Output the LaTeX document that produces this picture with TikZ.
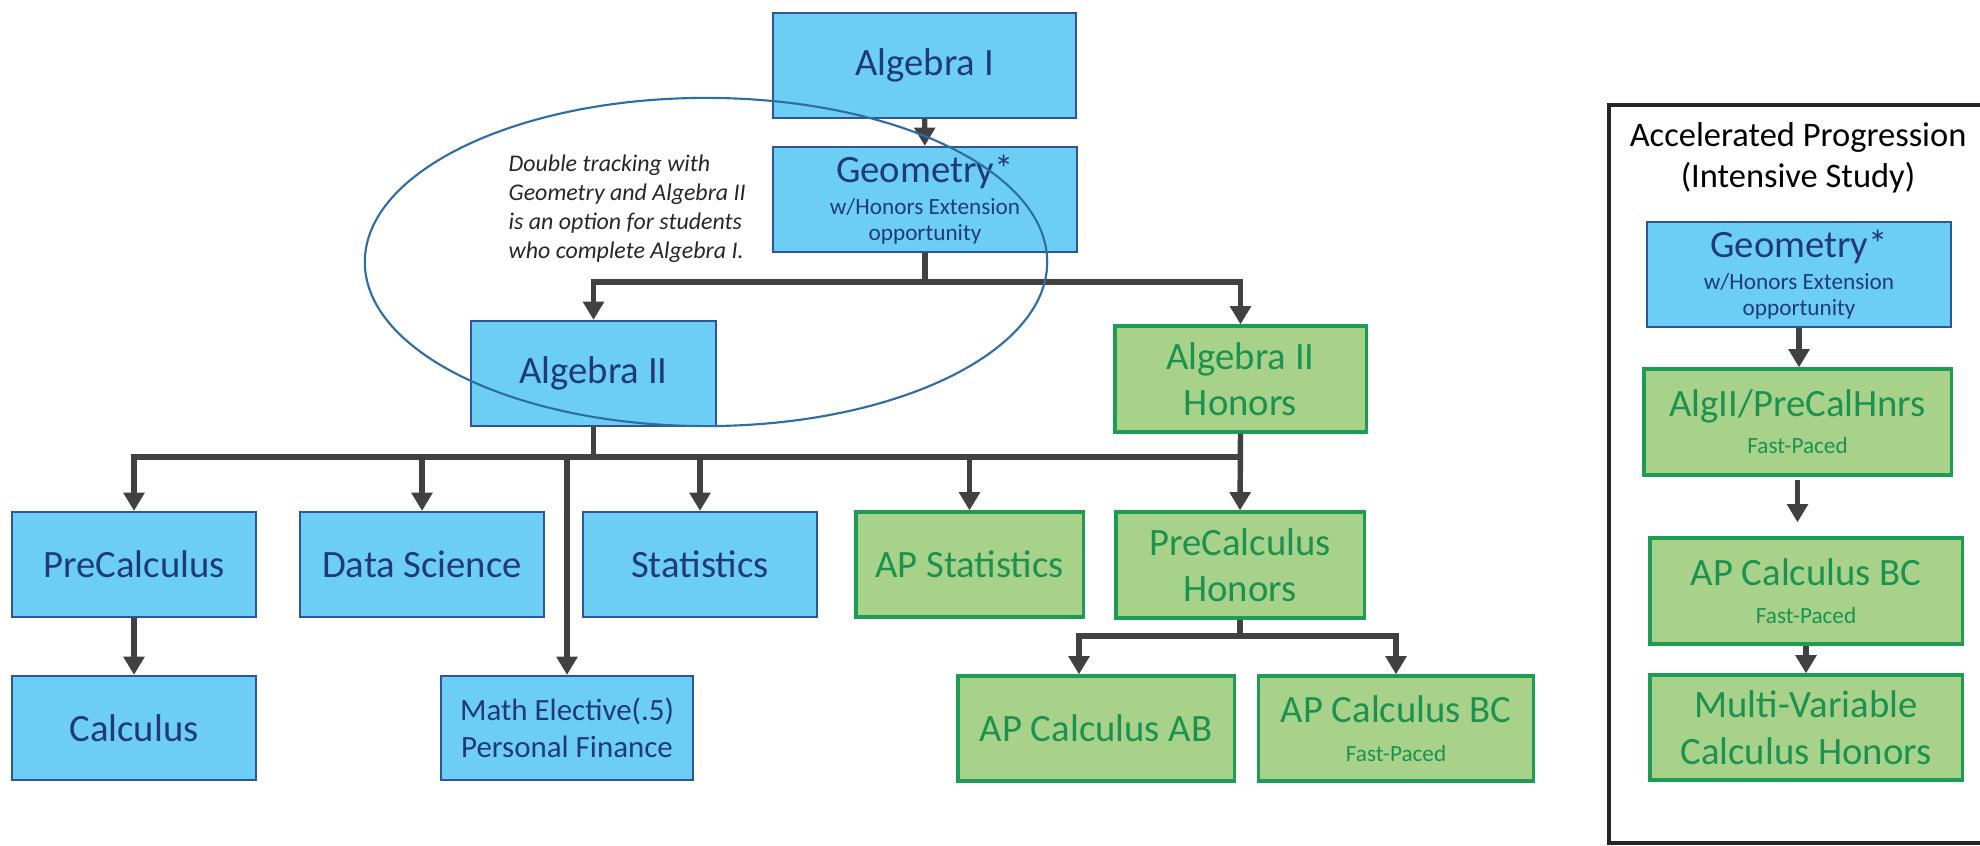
\documentclass[tikz,border=0pt]{standalone}
\usepackage{fontspec}
\setmainfont{Carlito}
\usepackage{tikz}
\usetikzlibrary{positioning}
\usetikzlibrary{arrows.meta}
\definecolor{bluefill}{HTML}{6DCEF5}
\definecolor{blueline}{HTML}{2F5597}
\definecolor{bluetext}{HTML}{1F3A78}
\definecolor{greenfill}{HTML}{A8D28A}
\definecolor{greenline}{HTML}{1E9C55}
\definecolor{greentext}{HTML}{1B9250}
\definecolor{flowgray}{HTML}{414141}
\definecolor{ovalblue}{HTML}{2E6CA4}
\newcommand*{\subline}[1]{{\fontsize{6.6}{7.6}\selectfont #1}}
\tikzset{
  course/.style={% every course box
    draw,
    line width=0.6pt,
    align=center,
    inner sep=0pt,
    font=\fontsize{11}{13.2}\selectfont
  },
  regular/.style={course, draw=blueline, fill=bluefill, text=bluetext},
  honors/.style={course, draw=greenline, fill=greenfill, text=greentext, line width=0.9pt},
  flow/.style={draw=flowgray, line width=1.55pt},
  flowarrow/.style={flow, -{Triangle[length=5.2pt,width=5.8pt]}},
  note/.style={align=left, inner sep=0pt, text=black!85,
    font=\fontsize{6.8}{8.25}\selectfont\itshape},
  panel/.style={draw=black!85, line width=1.15pt}
}

\begin{document}
\begin{tikzpicture}[x=0.01cm, y=-0.01cm]
    \useasboundingbox (0,0) rectangle (1980,846);
    \clip (0,0) rectangle (1980,846);

    % main track
    \node[regular, minimum width=3.03cm, minimum height=1.05cm] (alg1) at (924.5,65.5) {Algebra I};
    \node[regular, minimum width=3.03cm, minimum height=1.05cm] (geo) at (925,199.5)
        {Geometry*\\[-4.1pt]\subline{w/Honors Extension}\\[-5.8pt]\subline{opportunity}};
    \node[regular, minimum width=2.45cm, minimum height=1.05cm] (alg2) at (593.5,373.5) {Algebra II};
    \node[honors, minimum width=2.51cm, minimum height=1.06cm] (alg2h) at (1240.5,379) {Algebra II\\Honors};

    \node[regular, minimum width=2.43cm, minimum height=1.05cm] (precalc) at (134,564.5) {PreCalculus};
    \node[regular, minimum width=2.44cm, minimum height=1.05cm] (datasci) at (422,564.5) {Data Science};
    \node[regular, minimum width=2.34cm, minimum height=1.05cm] (stats) at (700,564.5) {Statistics};
    \node[honors, minimum width=2.27cm, minimum height=1.05cm] (apstats) at (969.5,564.5) {AP Statistics};
    \node[honors, minimum width=2.48cm, minimum height=1.06cm] (precalch) at (1240,565) {PreCalculus\\Honors};

    \node[regular, minimum width=2.43cm, minimum height=1.04cm] (calc) at (134,728) {Calculus};
    \node[regular, minimum width=2.52cm, minimum height=1.04cm,
          font=\fontsize{8.8}{10.5}\selectfont] (elective) at (567,728) {Math Elective(.5)\\Personal Finance};
    \node[honors, minimum width=2.76cm, minimum height=1.05cm] (apab) at (1096,728.5) {AP Calculus AB};
    \node[honors, minimum width=2.75cm, minimum height=1.05cm] (apbc) at (1396,728.5)
        {AP Calculus BC\\[-2.2pt]\subline{Fast-Paced}};

    \node[note, anchor=north west] (double) at (508,154)
        {Double tracking with\\Geometry and Algebra II\\is an option for students\\who complete Algebra I.};

    % connectors
    \coordinate (geosplit) at (925,282);
    \coordinate (bus) at (593.5,457);
    \coordinate (calcsplit) at (1240,636);
    \draw[flowarrow] (alg1) -- (geo);
    \draw[flow] (geo.south) -- (geosplit);
    \draw[flowarrow] (geosplit) -| (alg2.north);
    \draw[flowarrow] (geosplit) -| (alg2h.north);
    \draw[flow] (alg2.south) -- (bus);
    \draw[flow] (bus) -- (bus -| precalch.north);
    \draw[flowarrow] (alg2h.south) -- (precalch.north);
    \foreach \c in {precalc,datasci,elective,stats,apstats} {
        \draw[flowarrow] (bus) -| (\c.north);
    }
    \draw[flowarrow] (precalc) -- (calc);
    \draw[flow] (precalch.south) -- (calcsplit);
    \draw[flowarrow] (calcsplit) -| ([xshift=-0.17cm]apab.north);
    \draw[flowarrow] (calcsplit) -| (apbc.north);

    \draw[ovalblue, line width=0.6pt] (706,262) ellipse [x radius=3.41cm, y radius=1.64cm];

    % accelerated progression
    \draw[panel] (1609,105) rectangle (2000,843);
    \node[align=center, inner sep=0pt, font=\fontsize{9.8}{11.7}\selectfont] (ptitle) at (1798,157.5)
        {Accelerated Progression\\(Intensive Study)};
    \node[regular, minimum width=3.04cm, minimum height=1.05cm] (rgeo) at (1799,274.5)
        {Geometry*\\[-4.1pt]\subline{w/Honors Extension}\\[-5.8pt]\subline{opportunity}};
    \node[honors, minimum width=3.07cm, minimum height=1.06cm] (ralg) at (1797.5,422)
        {AlgII/PreCalHnrs\\[-2.6pt]\subline{Fast-Paced}};
    \node[honors, minimum width=3.12cm, minimum height=1.06cm] (rbc) at (1806,591)
        {AP Calculus BC\\[-2.4pt]\subline{Fast-Paced}};
    \node[honors, minimum width=3.12cm, minimum height=1.05cm] (rmv) at (1806,727.5)
        {Multi-Variable\\Calculus Honors};
    \draw[flowarrow] (rgeo.south) -- (rgeo.south |- ralg.north);
    \draw[flowarrow, shorten <=1pt, shorten >=4pt] (ralg.south) -- (ralg.south |- rbc.north);
    \draw[flowarrow] (rbc) -- (rmv);
\end{tikzpicture}
\end{document}
